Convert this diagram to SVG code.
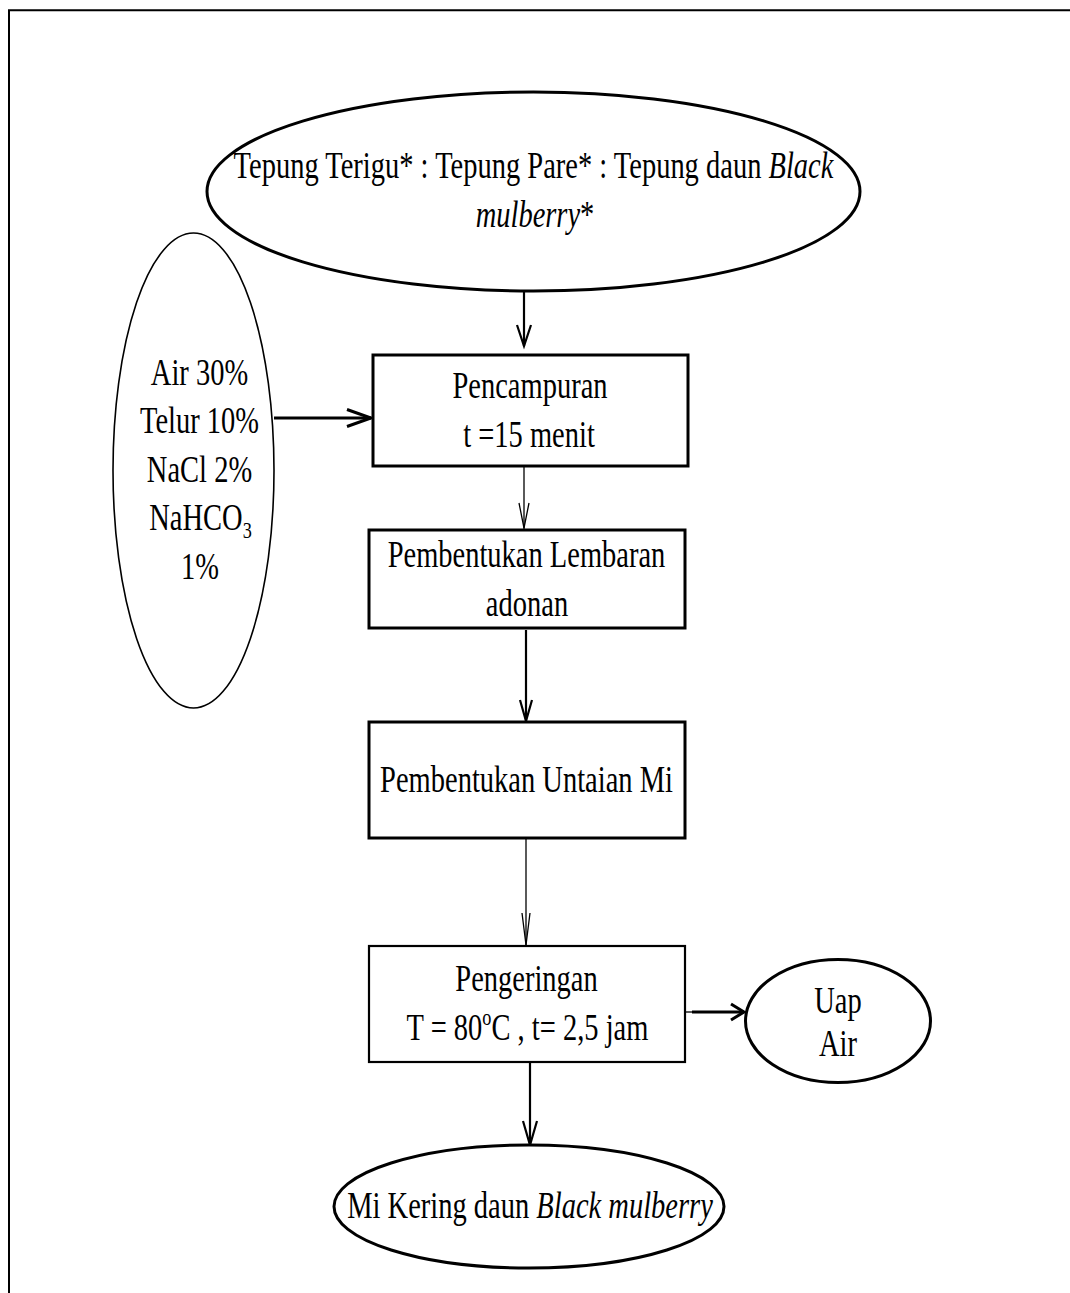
<svg xmlns="http://www.w3.org/2000/svg" width="1070" height="1293" viewBox="0 0 1070 1293">
  <style>
    .bg { fill: #ffffff; }
    .frame { fill: none; stroke: #000; stroke-width: 2; }
    .shape { fill: #ffffff; stroke: #000; stroke-width: 3; }
    .shape-thin { fill: #ffffff; stroke: #000; stroke-width: 1.6; }
    .shape-mid { fill: #ffffff; stroke: #000; stroke-width: 2.2; }
    .lbl { font-family: "Liberation Serif", "Times New Roman", serif; font-size: 37.5px; fill: #000; text-anchor: middle; }
    .it { font-style: italic; }
    .sup { font-size: 24px; }
    .line-thick { fill: none; stroke: #000; stroke-width: 3; }
    .line-mid { fill: none; stroke: #000; stroke-width: 2.2; }
    .line-thin { fill: none; stroke: #000; stroke-width: 1.3; }
  </style>
  <rect class="bg" x="0" y="0" width="1070" height="1293"/>
  <path class="frame" d="M9,1300 L9,10.3 L1075,10.3"/>

  <g id="connectors">
    <!-- top ellipse to Pencampuran -->
    <path class="line-mid" d="M524,291 L524,346"/>
    <polyline class="line-mid" points="517,325 524,346 531,325"/>
    <!-- left ellipse to Pencampuran -->
    <path class="line-thick" d="M274,418 L371,418"/>
    <polyline class="line-thick" points="347,409.5 371,418 347,426.5"/>
    <!-- Pencampuran to Pembentukan Lembaran -->
    <path class="line-thin" d="M524,437 L524,529"/>
    <polyline class="line-thin" points="519,503 524,528 529,503"/>
    <!-- Lembaran to Untaian -->
    <path class="line-mid" d="M526,630 L526,721"/>
    <polyline class="line-mid" points="520,700 526,721 532,700"/>
    <!-- Untaian to Pengeringan -->
    <path class="line-thin" d="M526,839 L526,945"/>
    <polyline class="line-thin" points="522,913 526,945 530,913"/>
    <!-- Pengeringan to Uap Air -->
    <path class="line-thin" d="M686,1012 L693,1012"/>
    <path class="line-thick" d="M692,1012 L744,1012"/>
    <polyline class="line-thick" points="731,1004 744,1012 731,1020"/>
    <!-- Pengeringan to Mi Kering -->
    <path class="line-mid" d="M530,1057 L530,1145"/>
    <polyline class="line-mid" points="523,1121 530,1145 537,1121"/>
  </g>

  <g id="node-tepung">
    <ellipse class="shape" cx="533.5" cy="191.5" rx="326.5" ry="99.5"/>
    <text class="lbl" transform="translate(533.5 178) scale(0.76 1)">Tepung Terigu* : Tepung Pare* : Tepung daun <tspan class="it">Black</tspan></text>
    <text class="lbl" transform="translate(535 227) scale(0.76 1)"><tspan class="it">mulberry</tspan>*</text>
  </g>

  <g id="node-bahan">
    <ellipse class="shape-thin" cx="193.5" cy="470.5" rx="80.5" ry="237.5"/>
    <text class="lbl" transform="translate(199.5 385) scale(0.76 1)">Air 30%</text>
    <text class="lbl" transform="translate(199.5 433) scale(0.76 1)">Telur 10%</text>
    <text class="lbl" transform="translate(199.5 482) scale(0.76 1)">NaCl 2%</text>
    <text class="lbl" transform="translate(200.5 530) scale(0.76 1)">NaHCO<tspan class="sup" dy="8">3</tspan></text>
    <text class="lbl" transform="translate(200 579) scale(0.76 1)">1%</text>
  </g>

  <g id="node-pencampuran">
    <rect class="shape" x="373" y="355" width="315" height="111"/>
    <text class="lbl" transform="translate(530 398) scale(0.76 1)">Pencampuran</text>
    <text class="lbl" transform="translate(529 447) scale(0.76 1)">t =15 menit</text>
  </g>

  <g id="node-lembaran">
    <rect class="shape" x="369" y="530" width="316" height="98"/>
    <text class="lbl" transform="translate(526.5 567) scale(0.76 1)">Pembentukan Lembaran</text>
    <text class="lbl" transform="translate(527 616) scale(0.76 1)">adonan</text>
  </g>

  <g id="node-untaian">
    <rect class="shape" x="369" y="722" width="316" height="116"/>
    <text class="lbl" transform="translate(526.5 792) scale(0.76 1)">Pembentukan Untaian Mi</text>
  </g>

  <g id="node-pengeringan">
    <rect class="shape-mid" x="369" y="946" width="316" height="116"/>
    <text class="lbl" transform="translate(526.5 991) scale(0.76 1)">Pengeringan</text>
    <text class="lbl" transform="translate(527.5 1040) scale(0.76 1)">T = 80<tspan class="sup" dy="-15">o</tspan><tspan dy="15">C , t= 2,5 jam</tspan></text>
  </g>

  <g id="node-uap">
    <ellipse class="shape" cx="838" cy="1021" rx="92.5" ry="61.5"/>
    <text class="lbl" transform="translate(838 1013) scale(0.76 1)">Uap</text>
    <text class="lbl" transform="translate(838 1056) scale(0.76 1)">Air</text>
  </g>

  <g id="node-mikering">
    <ellipse class="shape" cx="529" cy="1206.5" rx="195" ry="61.5"/>
    <text class="lbl" transform="translate(530 1218) scale(0.76 1)">Mi Kering daun <tspan class="it">Black mulberry</tspan></text>
  </g>
</svg>
